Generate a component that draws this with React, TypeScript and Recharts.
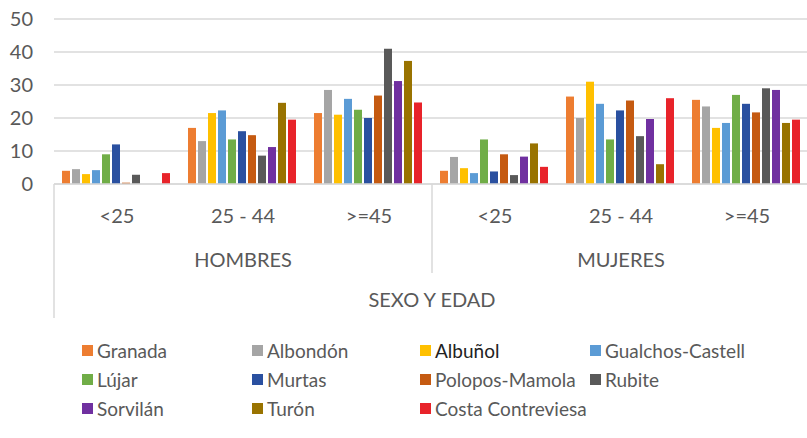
import React from 'react';
import { BarChart, Bar, XAxis, YAxis, CartesianGrid, Legend } from 'recharts';

const sexes = ['HOMBRES', 'MUJERES'];
const ages = ['<25', '25 - 44', '>=45'];
const axisTitle = 'SEXO Y EDAD';
const yTicks = [0, 10, 20, 30, 40, 50];

const seriesNames = [
  'Granada', 'Albondón', 'Albuñol', 'Gualchos-Castell', 'Lújar', 'Murtas',
  'Polopos-Mamola', 'Rubite', 'Sorvilán', 'Turón', 'Costa Contreviesa',
];
const seriesColors = [
  '#ED7D31', '#A5A5A5', '#FFC000', '#5B9BD5', '#70AD47', '#2A50A0',
  '#C55A11', '#595959', '#7030A0', '#997300', '#E8232A',
];

// values per category: H<25, H25-44, H>=45, M<25, M25-44, M>=45
const granada = [4, 17, 21.5, 4, 26.5, 25.5];
const albondon = [4.5, 13, 28.5, 8.2, 20, 23.5];
const albunol = [3, 21.5, 21, 4.8, 31, 17];
const gualchos = [4.2, 22.3, 25.8, 3.3, 24.3, 18.5];
const lujar = [9, 13.5, 22.5, 13.5, 13.5, 27];
const murtas = [12, 16, 20, 3.8, 22.3, 24.3];
const polopos = [0.4, 14.8, 26.8, 9, 25.3, 21.7];
const rubite = [2.8, 8.6, 41, 2.7, 14.5, 29];
const sorvilan = [0, 11.2, 31.2, 8.3, 19.7, 28.5];
const turon = [0, 24.6, 37.3, 12.3, 6, 18.5];
const costa = [3.3, 19.5, 24.7, 5.2, 26, 19.5];

const seriesValues = [granada, albondon, albunol, gualchos, lujar, murtas, polopos, rubite, sorvilan, turon, costa];

const data: any[] = [];
sexes.forEach((s, si) => {
  ages.forEach((a, ai) => {
    const idx = si * ages.length + ai;
    const row: any = { key: `${s}|${a}`, age: a, sex: s };
    seriesNames.forEach((n, k) => {
      row[n] = seriesValues[k][idx];
    });
    data.push(row);
  });
});

const FONT = 'Lato, "Open Sans", sans-serif';
const TEXT = '#595959';
const LINE = '#D9D9D9';

function AxisTick(props: any) {
  const { x, y, payload, index, visibleTicksCount, width } = props;
  const cx = payload && payload.coordinate != null ? payload.coordinate : x;
  const half = payload && payload.offset ? payload.offset : width / (visibleTicksCount * 2);
  const row = data[index];
  const nAges = ages.length;
  const els: any[] = [];
  els.push(
    <text key="a" x={cx} y={y + 39} textAnchor="middle" fill={TEXT} fontSize={20} fontFamily={FONT}>
      {row ? row.age : payload.value}
    </text>
  );
  if (index % nAges === 0) {
    els.push(<line key="l" x1={cx - half} x2={cx - half} y1={y} y2={y + (index === 0 ? 134 : 89)} stroke={LINE} strokeWidth={1.5} />);
  }
  if (index % nAges === Math.floor(nAges / 2)) {
    els.push(
      <text key="s" x={cx} y={y + 83} textAnchor="middle" fill={TEXT} fontSize={20} fontFamily={FONT}>
        {row ? row.sex : ''}
      </text>
    );
  }
  if (index === nAges - 1) {
    els.push(
      <text key="t" x={cx + half} y={y + 123} textAnchor="middle" fill={TEXT} fontSize={20} fontFamily={FONT}>
        {axisTitle}
      </text>
    );
  }
  if (index === data.length - 1) {
    els.push(<line key="r" x1={cx + half} x2={cx + half} y1={y} y2={y + 89} stroke={LINE} strokeWidth={1.5} />);
  }
  return <g>{els}</g>;
}

const colX = [82, 252, 420, 590];
const rowY = [1, 30, 59];

function LegendContent() {
  return (
    <div style={{ position: 'relative', width: 807, height: 100, fontFamily: FONT, fontSize: 19 }}>
      {seriesNames.map((n, i) => {
        const col = i % 4;
        const r = Math.floor(i / 4);
        return (
          <div
            key={n}
            style={{
              position: 'absolute', left: colX[col], top: rowY[r], display: 'flex', alignItems: 'center',
              color: n === 'Albuñol' ? '#222222' : TEXT, whiteSpace: 'nowrap', lineHeight: '23px',
            }}
          >
            <span style={{ display: 'inline-block', width: 11, height: 11, background: seriesColors[i], marginRight: 4 }} />
            {n}
          </div>
        );
      })}
    </div>
  );
}

export default function App() {
  return (
    <div style={{ position: 'absolute', left: 0, top: 0, width: 807, height: 438, overflow: 'hidden', background: '#fff' }}>
      <BarChart
        width={810}
        height={438}
        data={data}
        margin={{ top: 19, right: 0, left: 0, bottom: 0 }}
        barCategoryGap={8}
        barGap={2}
      >
        <CartesianGrid vertical={false} stroke={LINE} strokeWidth={1.5} />
        <XAxis
          dataKey="key"
          height={154}
          interval={0}
          tickLine={false}
          tickSize={0}
          tickMargin={0}
          axisLine={{ stroke: LINE, strokeWidth: 1.5 }}
          tick={<AxisTick />}
        />
        <YAxis
          width={54}
          domain={[0, 50]}
          ticks={yTicks}
          axisLine={false}
          tickLine={false}
          tickSize={0}
          tickMargin={21}
          tick={{ fill: TEXT, fontSize: 20, fontFamily: FONT }}
        />
        <Legend width={807} wrapperStyle={{ left: 0 }} content={<LegendContent />} />
        {seriesNames.map((n, i) => (
          <Bar key={n} dataKey={n} fill={seriesColors[i]} isAnimationActive={false} />
        ))}
      </BarChart>
    </div>
  );
}
